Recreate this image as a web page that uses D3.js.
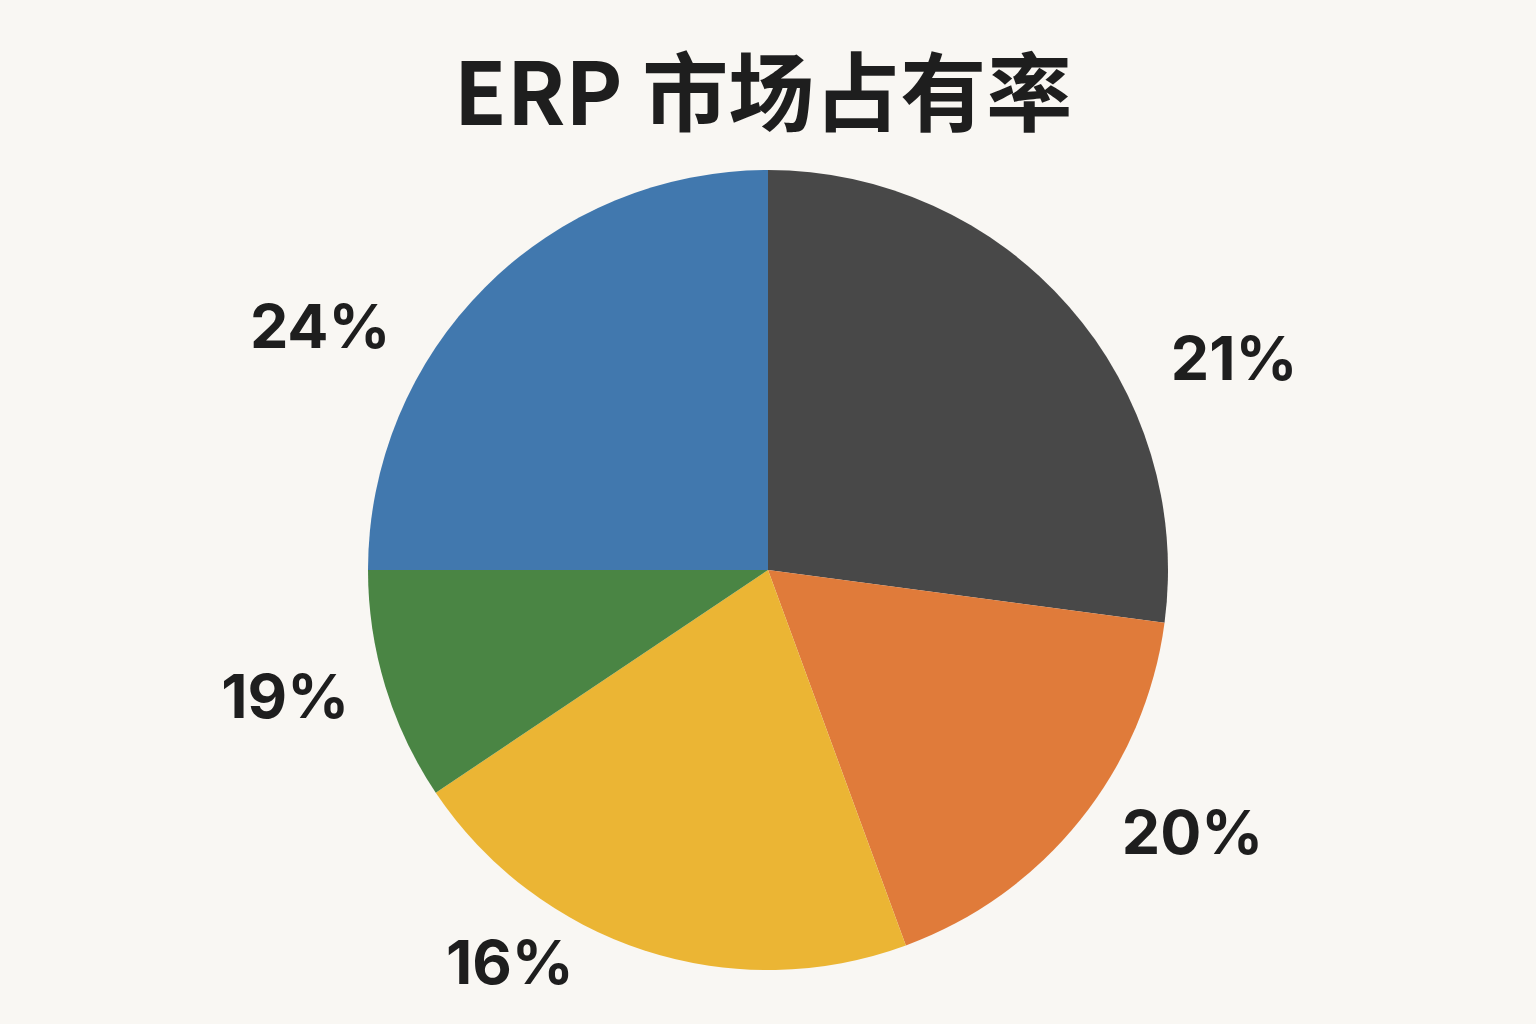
<!DOCTYPE html>
<html>
<head>
<meta charset="utf-8">
<script src="https://cdn.jsdelivr.net/npm/d3@7"></script>
<style>
  html, body { margin: 0; padding: 0; background: #f9f7f3; }
  svg { display: block; }
</style>
</head>
<body>
<div id="chart"></div>
<script>
// slice shares as drawn (clockwise from 12 o'clock), and the printed labels
const segments = ["dark", "orange", "yellow", "green", "blue"];
const shares = [27.1, 17.3, 21.2, 9.4, 25.0];
const labels = ["21%", "20%", "16%", "19%", "24%"];
const colors = ["#484848", "#e07b3a", "#ebb534", "#4a8544", "#4178ae"];

// label placement: angle offset from slice middle (deg) and distance from centre
const labelOffset = [16.8, -7.0, 15.4, 2.3, -16.4];
const labelDist = [512, 499, 469, 499, 510];

const width = 1536, height = 1024;
const cx = 768, cy = 570, radius = 400;

const svg = d3.select("#chart").append("svg")
    .attr("width", width)
    .attr("height", height);

svg.append("rect")
    .attr("width", width)
    .attr("height", height)
    .attr("fill", "#f9f7f3");

// title
svg.append("text")
    .attr("x", 763)
    .attr("y", 125)
    .attr("text-anchor", "middle")
    .attr("font-family", "'Noto Sans CJK SC', 'Noto Sans', sans-serif")
    .attr("font-weight", 700)
    .attr("font-size", 86)
    .attr("fill", "#1e1e1e")
    .text("ERP 市场占有率");

const pie = d3.pie().sort(null).value(d => d);
const arcs = pie(shares);

const arc = d3.arc().innerRadius(0).outerRadius(radius);

const g = svg.append("g").attr("transform", `translate(${cx},${cy})`);

g.selectAll("path")
    .data(arcs)
    .join("path")
    .attr("d", arc)
    .attr("fill", (d, i) => colors[i]);

// percentage labels
g.selectAll("text")
    .data(arcs)
    .join("text")
    .attr("transform", (d, i) => {
        const a = (d.startAngle + d.endAngle) / 2 + labelOffset[i] * Math.PI / 180;
        const p = d3.arc().innerRadius(labelDist[i]).outerRadius(labelDist[i])
            .centroid({ startAngle: a, endAngle: a });
        return `translate(${p[0]},${p[1]})`;
    })
    .attr("dy", "0.36em")
    .attr("text-anchor", "middle")
    .attr("font-family", "Inter, 'Noto Sans', sans-serif")
    .attr("font-weight", 700)
    .attr("font-size", 61)
    .attr("fill", "#1e1e1e")
    .text((d, i) => labels[i]);
</script>
</body>
</html>
